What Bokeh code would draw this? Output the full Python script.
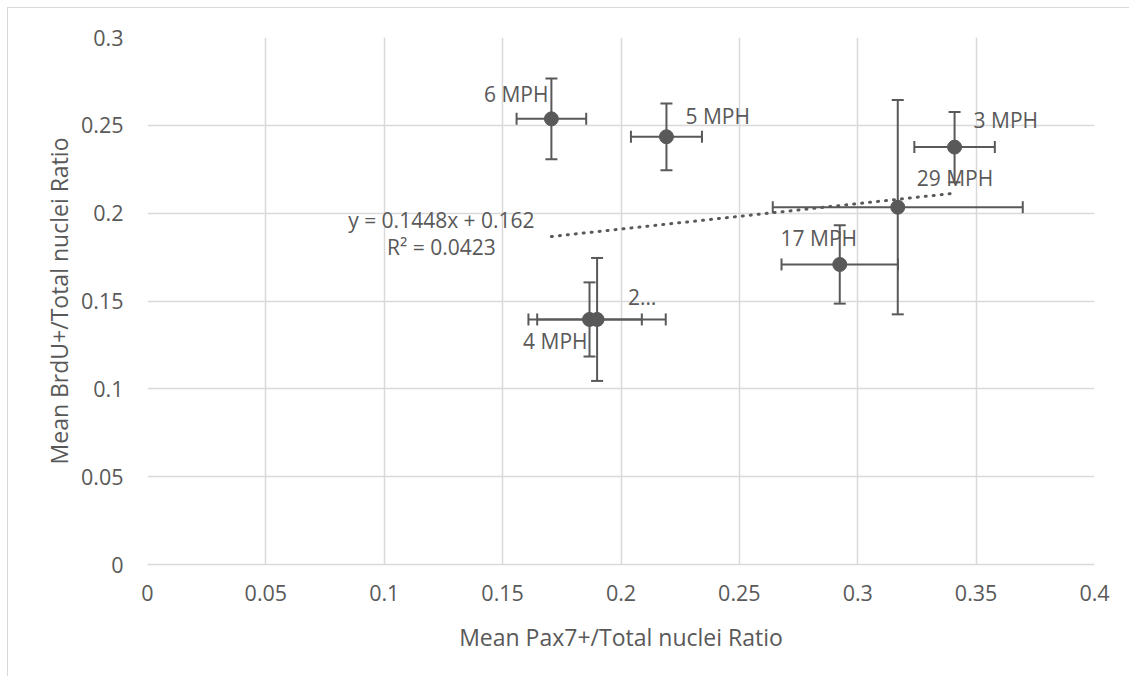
from bokeh.plotting import figure
from bokeh.models import ColumnDataSource, Range1d, FixedTicker, Whisker, TeeHead
from bokeh.core.properties import value, field
from bokeh.embed import file_html
from bokeh.resources import INLINE

# ---- data ----
labels = ["6 MPH", "5 MPH", "3 MPH", "29 MPH", "17 MPH", "4 MPH", "2\u2026"]
pax7 = [0.1706, 0.2192, 0.3409, 0.3169, 0.2924, 0.1867, 0.1899]
brdu = [0.2537, 0.2435, 0.2376, 0.2034, 0.1708, 0.1395, 0.1395]
pax7_err = [0.0147, 0.0150, 0.0170, 0.0528, 0.0246, 0.0221, 0.0290]
brdu_err = [0.0230, 0.0190, 0.0200, 0.0610, 0.0223, 0.0211, 0.0350]

x_ticks = [0, 0.05, 0.1, 0.15, 0.2, 0.25, 0.3, 0.35, 0.4]
x_tick_labels = ["0", "0.05", "0.1", "0.15", "0.2", "0.25", "0.3", "0.35", "0.4"]
y_ticks = [0, 0.05, 0.1, 0.15, 0.2, 0.25, 0.3]
y_tick_labels = ["0", "0.05", "0.1", "0.15", "0.2", "0.25", "0.3"]

trend_slope = 0.1448
trend_intercept = 0.162
r_squared = 0.0423

x_title = "Mean Pax7+/Total nuclei Ratio"
y_title = "Mean BrdU+/Total nuclei Ratio"

# ---- label placement (screen pixel offsets, styling only) ----
lab_dx = [-3, 19, 19, 19, -21, -2, 31]
lab_dy = [-25, -21, -27, -29, -26, 22, -22]
lab_align = ["right", "left", "left", "left", "center", "right", "left"]

GREY = "#595959"
GRID = "#d9d9d9"
FONT = "Open Sans"

src = ColumnDataSource(dict(
    x=pax7, y=brdu, label=labels,
    x_lo=[a - e for a, e in zip(pax7, pax7_err)],
    x_hi=[a + e for a, e in zip(pax7, pax7_err)],
    y_lo=[a - e for a, e in zip(brdu, brdu_err)],
    y_hi=[a + e for a, e in zip(brdu, brdu_err)],
    dx=lab_dx, dy=lab_dy, align=lab_align,
))

p = figure(width=1122, height=669, output_backend="svg", toolbar_location=None,
           x_range=Range1d(x_ticks[0], x_ticks[-1]), y_range=Range1d(y_ticks[0], y_ticks[-1]),
           min_border_left=139, min_border_right=36, min_border_top=29, min_border_bottom=113)
p.styles = {"margin-left": "7px", "margin-top": "7px",
            "border-left": "1px solid #d9d9d9", "border-top": "1px solid #d9d9d9"}
p.background_fill_color = "white"
p.border_fill_color = "white"
p.outline_line_color = None

p.xaxis.ticker = FixedTicker(ticks=x_ticks)
p.yaxis.ticker = FixedTicker(ticks=y_ticks)
p.xaxis.major_label_overrides = dict(zip(x_ticks, x_tick_labels))
p.yaxis.major_label_overrides = dict(zip(y_ticks, y_tick_labels))

for ax in (p.xaxis, p.yaxis):
    ax.major_tick_line_color = None
    ax.minor_tick_line_color = None
    ax.major_tick_out = 0
    ax.major_tick_in = 0
    ax.major_label_text_font = FONT
    ax.major_label_text_font_size = "21.5px"
    ax.major_label_text_color = GREY
    ax.axis_label_text_font = FONT
    ax.axis_label_text_font_size = "23px"
    ax.axis_label_text_font_style = "normal"
    ax.axis_label_text_color = GREY

p.xaxis.axis_line_color = GRID
p.xaxis.axis_line_width = 1.5
p.yaxis.axis_line_color = None
p.xaxis.major_label_standoff = 20
p.yaxis.major_label_standoff = 24
p.xaxis.axis_label = x_title
p.yaxis.axis_label = y_title
p.xaxis.axis_label_standoff = 17
p.yaxis.axis_label_standoff = 3

p.xgrid.grid_line_color = GRID
p.ygrid.grid_line_color = GRID
p.xgrid.grid_line_width = 1.5
p.ygrid.grid_line_width = 1.5

# trendline
x_min, x_max = min(pax7), max(pax7)
tx = [x_min, x_max]
ty = [trend_slope * v + trend_intercept for v in tx]
p.line(tx, ty, line_color=GREY, line_width=3, line_dash="1 7", line_cap="round")

# error bars
p.add_layout(Whisker(source=src, base="x", lower="y_lo", upper="y_hi", dimension="height",
                     line_color=GREY, line_width=2,
                     lower_head=TeeHead(size=12, line_color=GREY, line_width=2),
                     upper_head=TeeHead(size=12, line_color=GREY, line_width=2)))
p.add_layout(Whisker(source=src, base="y", lower="x_lo", upper="x_hi", dimension="width",
                     line_color=GREY, line_width=2,
                     lower_head=TeeHead(size=12, line_color=GREY, line_width=2),
                     upper_head=TeeHead(size=12, line_color=GREY, line_width=2)))

# markers
p.scatter("x", "y", source=src, size=14, fill_color=GREY, line_color=GREY)

# data labels
p.text("x", "y", text="label", source=src, x_offset=field("dx"), y_offset=field("dy"),
       text_align=field("align"), text_baseline="middle",
       text_font=value(FONT), text_font_size="21px", text_color=GREY)

# trendline equation
eq_x = [x_min, x_min]
eq_y = [trend_slope * x_min + trend_intercept] * 2
eq_text = ["y = %.4fx + %.3f" % (trend_slope, trend_intercept), "R\u00b2 = %.4f" % r_squared]
p.text(eq_x, eq_y, text=eq_text, x_offset=-110, y_offset=[-17, 10],
       text_align="center", text_baseline="middle",
       text_font=value(FONT), text_font_size="21px", text_color=GREY)

open("out.html", "w").write(file_html(p, INLINE))
